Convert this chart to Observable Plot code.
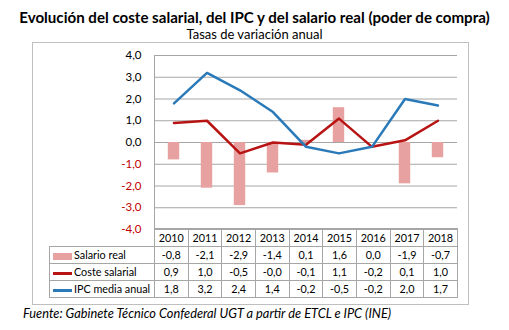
<!DOCTYPE html>
<html>
<head>
<meta charset="utf-8">
<script src="https://cdn.jsdelivr.net/npm/d3@7"></script>
<script src="https://cdn.jsdelivr.net/npm/@observablehq/plot@0.6"></script>
<style>
  html, body { margin: 0; padding: 0; background: #fff; }
  body { width: 509px; height: 330px; position: relative; overflow: hidden; font-family: Lato, "Open Sans", sans-serif; color: #000; }
  #title { position: absolute; left: 0; width: 509px; top: 8px; text-align: center; font-weight: bold; font-size: 15.1px; line-height: 18px; white-space: nowrap; }
  #subtitle { position: absolute; left: 0; width: 509px; top: 27px; text-align: center; font-size: 13px; line-height: 14px; }
  #frame { position: absolute; left: 32px; top: 42px; width: 435px; height: 261px; border: 1px solid #bfbfbf; }
  #chart { position: absolute; left: 0; top: 45px; }
  #table { position: absolute; left: 49px; top: 228px; border-collapse: collapse; table-layout: fixed; font-size: 10.8px; }
  #table td { border: 1px solid #a6a6a6; text-align: center; padding: 0; height: 16px; line-height: 16px; white-space: nowrap; overflow: hidden; }
  #table tr.head td { height: 17px; }
  #table td.corner { border-top: none; border-left: none; }
  #table td.leg { text-align: left; padding-left: 3px; }
  .sw { display: inline-block; width: 19px; vertical-align: middle; margin-right: 2px; }
  #footer { position: absolute; left: 23px; top: 306px; font-style: italic; font-size: 12.8px; line-height: 15px; white-space: nowrap; }
</style>
</head>
<body>
<div id="title"></div>
<div id="subtitle"></div>
<div id="frame"></div>
<div id="chart"></div>
<table id="table"></table>
<div id="footer"></div>
<script>
const titleText = "Evolución del coste salarial, del IPC y del salario real (poder de compra)";
const subtitleText = "Tasas de variación anual";
const footerText = "Fuente: Gabinete Técnico Confederal UGT a partir de ETCL e IPC (INE)";

const years = [2010, 2011, 2012, 2013, 2014, 2015, 2016, 2017, 2018];
const salarioReal = [-0.8, -2.1, -2.9, -1.4, 0.1, 1.6, 0.0, -1.9, -0.7];
const costeSalarial = [0.9, 1.0, -0.5, -0.0, -0.1, 1.1, -0.2, 0.1, 1.0];
const ipcMedia = [1.8, 3.2, 2.4, 1.4, -0.2, -0.5, -0.2, 2.0, 1.7];
const seriesNames = ["Salario real", "Coste salarial", "IPC media anual"];
const yTicks = [-4, -3, -2, -1, 0, 1, 2, 3, 4];

const colPink = "#e8a1a1";
const colRed = "#b81414";
const colBlue = "#2a7ab9";
const colNeg = "#c00000";
const grid = "#a6a6a6";

const fmt = v => ((v < 0 || Object.is(v, -0)) ? "-" : "") + Math.abs(v).toFixed(1).replace(".", ",");

document.getElementById("title").textContent = titleText;
document.getElementById("subtitle").textContent = subtitleText;
document.getElementById("footer").textContent = footerText;

const rows = years.map((y, i) => ({year: y, real: salarioReal[i], coste: costeSalarial[i], ipc: ipcMedia[i]}));

const chart = Plot.plot({
  width: 509,
  height: 194,
  marginLeft: 154,
  marginRight: 52,
  marginTop: 10,
  marginBottom: 10,
  style: {fontFamily: "Lato, 'Open Sans', sans-serif", fontSize: "11px", background: "transparent", overflow: "visible"},
  x: {type: "band", domain: years, padding: 0, axis: null},
  y: {domain: [-4, 4], axis: null},
  marks: [
    Plot.gridY(yTicks, {stroke: grid, strokeOpacity: 1}),
    Plot.frame({anchor: "left", stroke: grid}),
    Plot.barY(rows, {x: "year", y: "real", fill: colPink, insetLeft: 10.8, insetRight: 10.8}),
    Plot.lineY(rows, {x: "year", y: "coste", stroke: colRed, strokeWidth: 2.5}),
    Plot.lineY(rows, {x: "year", y: "ipc", stroke: colBlue, strokeWidth: 2.5}),
    Plot.axisY(yTicks.filter(d => d >= 0), {tickSize: 0, tickPadding: 13, tickFormat: fmt, fill: "#000", fontSize: 11.5}),
    Plot.axisY(yTicks.filter(d => d < 0), {tickSize: 0, tickPadding: 13, tickFormat: fmt, fill: colNeg, fontSize: 11.5})
  ]
});
document.getElementById("chart").appendChild(chart);

// data table
const table = document.getElementById("table");
const colW = 303 / years.length;
let html = `<colgroup><col style="width:105px">${years.map(() => `<col style="width:${colW}px">`).join("")}</colgroup>`;
html += `<tr class="head"><td class="corner"></td>${years.map(y => `<td>${y}</td>`).join("")}</tr>`;
const swatches = [
  `<span class="sw" style="height:7px;background:${colPink}"></span>`,
  `<span class="sw" style="height:2.5px;background:${colRed}"></span>`,
  `<span class="sw" style="height:2.5px;background:${colBlue}"></span>`
];
[salarioReal, costeSalarial, ipcMedia].forEach((vals, k) => {
  html += `<tr><td class="leg">${swatches[k]}${seriesNames[k]}</td>${vals.map(v => `<td>${fmt(v)}</td>`).join("")}</tr>`;
});
table.innerHTML = html;
</script>
</body>
</html>
